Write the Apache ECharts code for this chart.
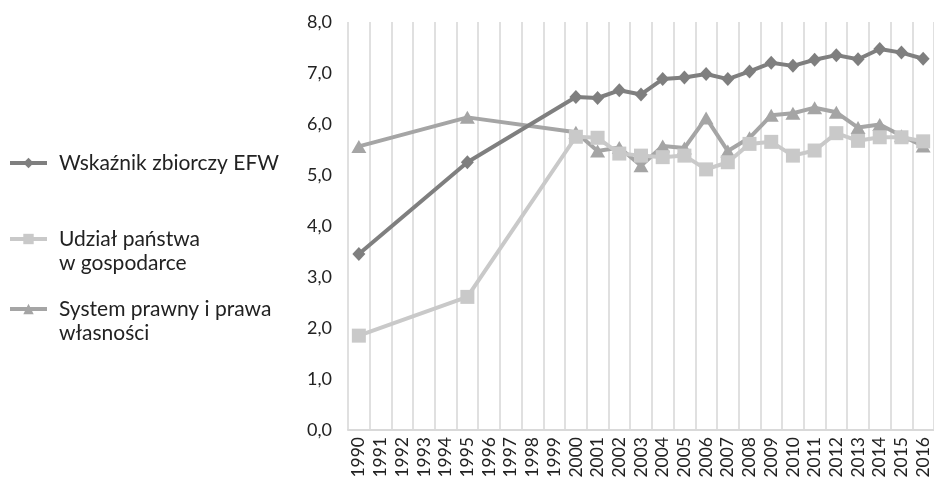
<!DOCTYPE html>
<html>
<head>
<meta charset="utf-8">
<script src="https://cdn.jsdelivr.net/npm/echarts@6/dist/echarts.min.js"></script>
<style>
  html, body { margin: 0; padding: 0; background: #fff; }
  #chart { width: 934px; height: 487px; }
</style>
</head>
<body>
<div id="chart"></div>
<script>
// Years on the category axis
const years = [
  '1990','1991','1992','1993','1994','1995','1996','1997','1998','1999',
  '2000','2001','2002','2003','2004','2005','2006','2007','2008','2009',
  '2010','2011','2012','2013','2014','2015','2016'
];

// Index values (null = no observation for that year)
const efwIndex = [
  3.45, null, null, null, null, 5.25, null, null, null, null,
  6.53, 6.51, 6.66, 6.58, 6.88, 6.91, 6.98, 6.88, 7.03, 7.20,
  7.14, 7.26, 7.35, 7.27, 7.47, 7.40, 7.28
];
const govSize = [
  1.85, null, null, null, null, 2.61, null, null, null, null,
  5.75, 5.73, 5.42, 5.38, 5.35, 5.38, 5.11, 5.25, 5.61, 5.65,
  5.38, 5.48, 5.82, 5.67, 5.74, 5.74, 5.66
];
const legalSystem = [
  5.56, null, null, null, null, 6.13, null, null, null, null,
  5.84, 5.47, 5.54, 5.18, 5.57, 5.53, 6.12, 5.47, 5.73, 6.17,
  6.21, 6.32, 6.23, 5.93, 5.99, 5.77, 5.57
];

const seriesNames = [
  'Wskaźnik zbiorczy EFW',
  'Udział państwa w gospodarce',
  'System prawny i prawa własności'
];
const legendLines = [
  ['Wskaźnik zbiorczy EFW'],
  ['Udział państwa', 'w gospodarce'],
  ['System prawny i prawa', 'własności']
];
const yTicks = { min: 0, max: 8, step: 1 };

const FONT = 'Lato, "Noto Sans", sans-serif';
const colors = ['#7f7f7f', '#c9c9c9', '#a5a5a5'];
const LINE_H = 24;

// One legend block per series; a blank leading line keeps the icon
// level with the first text line of a two-line label.
function makeLegend(i, iconCenterY) {
  const lines = legendLines[i];
  const twoLines = lines.length > 1;
  const boxH = twoLines ? LINE_H * 3 : LINE_H;
  const label = twoLines ? '\n' + lines.join('\n') : lines[0];
  return {
    orient: 'vertical',
    left: 8,
    top: iconCenterY - boxH / 2,
    padding: 0,
    itemWidth: 37,
    itemHeight: 13,
    itemGap: 0,
    data: [seriesNames[i]],
    formatter: () => label,
    lineStyle: { width: 4 },
    textStyle: {
      fontFamily: FONT,
      fontSize: 21,
      color: '#222',
      lineHeight: LINE_H,
      padding: [0, 0, 0, 7]
    }
  };
}

const chart = echarts.init(document.getElementById('chart'), null, { renderer: 'canvas' });

const markerSpec = [
  { symbol: 'diamond', size: [13, 14] },
  { symbol: 'rect', size: 14 },
  { symbol: 'triangle', size: [15, 13] }
];
const seriesData = [efwIndex, govSize, legalSystem];

chart.setOption({
  animation: false,
  backgroundColor: '#fff',
  legend: [
    makeLegend(0, 163),
    makeLegend(1, 239),
    makeLegend(2, 309)
  ],
  grid: { left: 348, right: -6, top: 22, bottom: 57, containLabel: false },
  xAxis: {
    type: 'category',
    data: years,
    boundaryGap: true,
    axisLine: { show: true, lineStyle: { color: '#d9d9d9', width: 2 } },
    axisTick: { show: false },
    splitLine: { show: true, lineStyle: { color: '#e0e0e0', width: 2 } },
    axisLabel: {
      interval: 0,
      rotate: 90,
      margin: 7,
      fontFamily: FONT,
      fontSize: 17.5,
      color: '#222'
    }
  },
  yAxis: {
    type: 'value',
    min: yTicks.min,
    max: yTicks.max,
    interval: yTicks.step,
    axisLine: { show: false },
    axisTick: { show: false },
    splitLine: { show: false },
    axisLabel: {
      margin: 16,
      fontFamily: FONT,
      fontSize: 18,
      color: '#222',
      formatter: v => v.toFixed(1).replace('.', ',')
    }
  },
  series: seriesData.map((d, i) => ({
    name: seriesNames[i],
    type: 'line',
    data: d,
    connectNulls: true,
    showAllSymbol: true,
    symbol: markerSpec[i].symbol,
    symbolSize: markerSpec[i].size,
    z: 3 - i,
    lineStyle: { color: colors[i], width: 4 },
    itemStyle: { color: colors[i] }
  }))
});
</script>
</body>
</html>
